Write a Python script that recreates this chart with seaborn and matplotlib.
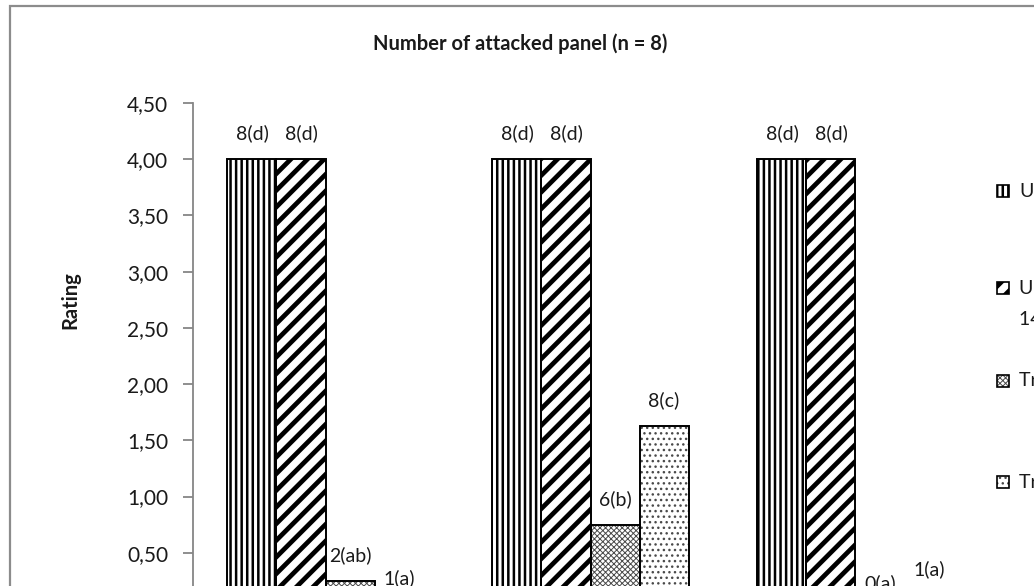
import numpy as np
import pandas as pd
import matplotlib
matplotlib.use("Agg")
import matplotlib.pyplot as plt
from matplotlib.patches import Rectangle
from matplotlib.ticker import FuncFormatter, MultipleLocator
import seaborn as sns

# Panels (x categories) and treatments (hue)
panels = ["Panel A", "Panel B", "Panel C"]
treatments = ["Untreated", "Untreated after", "Treatment 1", "Treatment 2"]
treatment_lines = [["Untreated"], ["Untreated after", "14 days"], ["Treatment 1"], ["Treatment 2"]]

# Mean rating per treatment, one value per panel
untreated = [4.00, 4.00, 4.00]
untreated_14d = [4.00, 4.00, 4.00]
treatment_1 = [0.25, 0.75, 0.00]
treatment_2 = [0.05, 1.625, 0.125]

# Number of attacked panels with significance letters
labels_untreated = ["8(d)", "8(d)", "8(d)"]
labels_untreated_14d = ["8(d)", "8(d)", "8(d)"]
labels_treatment_1 = ["2(ab)", "6(b)", "0(a)"]
labels_treatment_2 = ["1(a)", "8(c)", "1(a)"]

series_values = [untreated, untreated_14d, treatment_1, treatment_2]
series_labels = [labels_untreated, labels_untreated_14d, labels_treatment_1, labels_treatment_2]

rows = []
for t, vals in zip(treatments, series_values):
    for p, v in zip(panels, vals):
        rows.append({"panel": p, "treatment": t, "rating": v})
df = pd.DataFrame(rows)

sns.set_theme(style="white")
plt.rcParams["font.family"] = ["Lato", "DejaVu Sans"]

W, H = 1034, 586
fig = plt.figure(figsize=(W / 100, H / 100), dpi=100)
fig.patch.set_facecolor("white")

# plot area in pixel terms: x 193..988, y(4.5)=103, y(0)=609
ax = fig.add_axes([193 / W, (H - 609) / H, 795 / W, (609 - 103) / H])

sns.barplot(data=df, x="panel", y="rating", hue="treatment", order=panels,
            hue_order=treatments, palette=["white"] * 4, width=0.74, gap=0,
            errorbar=None, legend=False, edgecolor="black", linewidth=1.3, ax=ax)

hatches = ["|||", "//", "xxxxxx", "..."]
hatch_colors = ["black", "black", "#4a4a4a", "#4a4a4a"]
hatch_lws = [1.8, 3.4, 0.7, 1.0]

for cont, h, hc, hlw, labs in zip(ax.containers, hatches, hatch_colors, hatch_lws, series_labels):
    for bar in cont:
        bar.set_hatch(h)
        bar.set_edgecolor(hc)
        bar.set_linewidth(0)
        if hasattr(bar, "set_hatch_linewidth"):
            bar.set_hatch_linewidth(hlw)
        ax.add_patch(Rectangle(bar.get_xy(), bar.get_width(), bar.get_height(),
                               fill=False, edgecolor="black", linewidth=1.4, zorder=3))
    ax.bar_label(cont, labels=labs, padding=12, fontsize=14, color="#1a1a1a")

ax.set_xlim(-0.5, 2.5)
ax.set_ylim(0, 4.5)
ax.yaxis.set_major_locator(MultipleLocator(0.5))
ax.yaxis.set_major_formatter(FuncFormatter(lambda v, _: f"{v:.2f}".replace(".", ",")))
ax.tick_params(axis="y", direction="out", length=7, width=1.3, color="#868686",
               pad=11, labelsize=15, labelcolor="#1a1a1a", left=True)
ax.set_xlabel("")
ax.set_ylabel("")
for side in ["top", "right"]:
    ax.spines[side].set_visible(False)
for side in ["left", "bottom"]:
    ax.spines[side].set_color("#868686")
    ax.spines[side].set_linewidth(1.3)
ax.grid(False)

# Chart frame
fig.add_artist(Rectangle((10 / W, -0.1), 1.2, (H - 6) / H + 0.1, transform=fig.transFigure,
                         fill=False, edgecolor="#8c8c8c", linewidth=1.6))

fig.text(520 / W, 1 - 44 / H, "Number of attacked panel (n = 8)", ha="center", va="center",
         fontsize=14.5, fontweight="bold", color="#1a1a1a")
fig.text(70 / W, 1 - 300 / H, "Rating", ha="center", va="center", rotation=90,
         fontsize=14.5, fontweight="bold", color="#1a1a1a")

# Legend keys and labels
key_y = [191, 288, 381, 482]
for h, hc, hlw, lines, ky in zip(hatches, hatch_colors, hatch_lws, treatment_lines, key_y):
    key = Rectangle((997 / W, 1 - (ky + 6) / H), 12 / W, 12 / H, transform=fig.transFigure,
                    facecolor="white", edgecolor=hc, hatch=h, linewidth=0)
    if hasattr(key, "set_hatch_linewidth"):
        key.set_hatch_linewidth(hlw)
    fig.add_artist(key)
    fig.add_artist(Rectangle((997 / W, 1 - (ky + 6) / H), 12 / W, 12 / H,
                             transform=fig.transFigure, fill=False,
                             edgecolor="black", linewidth=1.2))
    for i, line in enumerate(lines):
        fig.text(1019 / W, 1 - (ky + 32 * i) / H, line, ha="left", va="center",
                 fontsize=14, color="#1a1a1a")

fig.savefig("out.png", dpi=100, facecolor="white")
